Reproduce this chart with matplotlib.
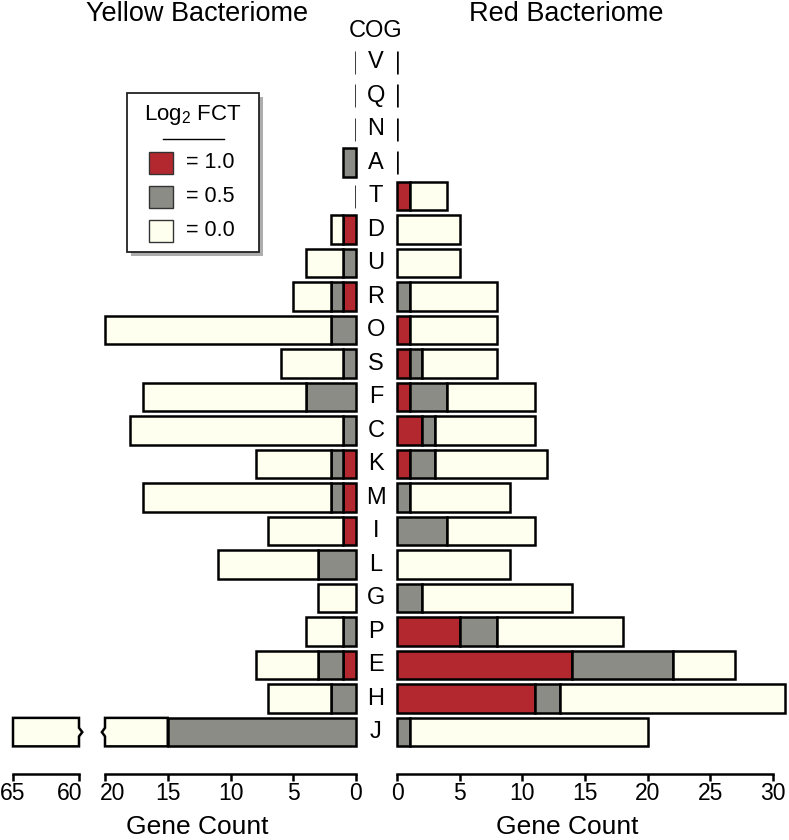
import matplotlib
matplotlib.use("Agg")
import matplotlib.pyplot as plt
import matplotlib.transforms as mtransforms
import matplotlib.patheffects as pe
from matplotlib.patches import Polygon, Rectangle
import numpy as np

plt.rcParams['font.family'] = ['Liberation Sans', 'DejaVu Sans']
plt.rcParams['mathtext.default'] = 'regular'

# COG categories, top to bottom
cogs = ['V', 'Q', 'N', 'A', 'T', 'D', 'U', 'R', 'O', 'S', 'F',
        'C', 'K', 'M', 'I', 'L', 'G', 'P', 'E', 'H', 'J']

# gene counts per Log2 FCT class (1.0, 0.5, 0.0)
yellow_fct10 = [0, 0, 0, 0, 0, 1, 0, 1, 0, 0, 0, 0, 1, 1, 1, 0, 0, 0, 1, 0, 0]
yellow_fct05 = [0, 0, 0, 1, 0, 0, 1, 1, 2, 1, 4, 1, 1, 1, 0, 3, 0, 1, 2, 2, 15]
yellow_fct00 = [0, 0, 0, 0, 0, 1, 3, 3, 18, 5, 13, 17, 6, 15, 6, 8, 3, 3, 5, 5, 50]

red_fct10 = [0, 0, 0, 0, 1, 0, 0, 0, 1, 1, 1, 2, 1, 0, 0, 0, 0, 5, 14, 11, 0]
red_fct05 = [0, 0, 0, 0, 0, 0, 0, 1, 0, 1, 3, 1, 2, 1, 4, 0, 2, 3, 8, 2, 1]
red_fct00 = [0, 0, 0, 0, 3, 5, 5, 7, 7, 6, 7, 8, 9, 8, 7, 9, 12, 10, 5, 18, 19]

fct_labels = ['= 1.0', '= 0.5', '= 0.0']
fct_colors = ['#B2282E', '#8C8C86', '#FFFFF0']

# broken left axis
break_lo, break_hi = 20, 60

W, H = 789, 840
fig = plt.figure(figsize=(W / 100, H / 100), dpi=100)

def px_axes(x0, x1, y_top, y_bot):
    return fig.add_axes([x0 / W, 1 - y_bot / H, (x1 - x0) / W, (y_bot - y_top) / H])

n = len(cogs)
ypos = np.arange(n)[::-1]
bh = 0.85
lw = 1.8
edge = dict(edgecolor='black', linewidth=lw)
ylim = (-1.25, n - 1 + 0.66)

ax_r = px_axes(397, 789, 40, 774)
ax_l = px_axes(100, 356, 40, 774)
ax_b = px_axes(13, 79, 40, 774)

ax_r.set_xlim(0, 392 / 12.53)
ax_l.set_xlim(256 / 12.55, 0)
ax_b.set_xlim(65, 60)

for ax in (ax_r, ax_l, ax_b):
    ax.set_ylim(*ylim)
    ax.set_yticks([])
    for s in ('top', 'left', 'right'):
        ax.spines[s].set_visible(False)
    ax.spines['bottom'].set_linewidth(lw)
    ax.tick_params(axis='x', direction='out', length=5, width=lw,
                   labelsize=16.5, pad=1)
    ax.patch.set_visible(False)

ax_r.spines['bottom'].set_bounds(0, 30)
ax_r.set_xticks([0, 5, 10, 15, 20, 25, 30])
ax_l.spines['bottom'].set_bounds(0, 20)
ax_l.set_xticks([0, 5, 10, 15, 20])
ax_b.spines['bottom'].set_bounds(60, 65)
ax_b.set_xticks([60, 65])

# nudge the labels either side of the break apart
def nudge(label, dx_px):
    label.set_transform(label.get_transform() +
                        mtransforms.ScaledTranslation(dx_px / 100, 0,
                                                      fig.dpi_scale_trans))

nudge(ax_b.get_xticklabels()[0], -9)
nudge(ax_l.get_xticklabels()[-1], 8)


def stacked(ax, segs, broken=False):
    left = np.zeros(n)
    for vals, col in zip(segs, fct_colors):
        vals = np.array(vals, dtype=float)
        for i in range(n):
            if vals[i] <= 0:
                continue
            end = left[i] + vals[i]
            y = ypos[i]
            if broken and end > break_lo:
                # piece below the break, notched edge at break_lo
                d = 0.25
                pts = [(left[i], y - bh / 2), (break_lo, y - bh / 2),
                       (break_lo, y - 0.15 * bh), (break_lo + d, y),
                       (break_lo, y + 0.15 * bh), (break_lo, y + bh / 2),
                       (left[i], y + bh / 2)]
                ax.add_patch(Polygon(pts, closed=True, facecolor=col, **edge))
                # piece above the break, drawn on the broken axis
                pts = [(end, y - bh / 2), (break_hi, y - bh / 2),
                       (break_hi, y - 0.15 * bh), (break_hi - d, y),
                       (break_hi, y + 0.15 * bh), (break_hi, y + bh / 2),
                       (end, y + bh / 2)]
                ax_b.add_patch(Polygon(pts, closed=True, facecolor=col,
                                       clip_on=False, **edge))
            else:
                ax.barh(y, vals[i], left=left[i], height=bh, color=col,
                        clip_on=False, **edge)
        left += vals
    zero = left == 0
    ax.vlines(np.zeros(zero.sum()), ypos[zero] - 0.34, ypos[zero] + 0.34,
              color='black', linewidth=lw)


stacked(ax_l, [yellow_fct10, yellow_fct05, yellow_fct00], broken=True)
stacked(ax_r, [red_fct10, red_fct05, red_fct00])

# COG letters
tr = mtransforms.blended_transform_factory(fig.transFigure, ax_r.transData)
for c, y in zip(cogs, ypos):
    ax_r.text(376 / W, y, c, transform=tr, ha='center', va='center',
              fontsize=17)

fig.text(376 / W, 1 - 31 / H, 'COG', ha='center', va='center', fontsize=17)
fig.text(197 / W, 1 - 14 / H, 'Yellow Bacteriome', ha='center', va='center',
         fontsize=19.5)
fig.text(566 / W, 1 - 14 / H, 'Red Bacteriome', ha='center', va='center',
         fontsize=19.5)
fig.text(197 / W, 1 - 827 / H, 'Gene Count', ha='center', va='center',
         fontsize=19)
fig.text(567 / W, 1 - 827 / H, 'Gene Count', ha='center', va='center',
         fontsize=19)

# legend box
lg = px_axes(127, 259, 93, 252)
lg.set_xlim(127, 259)
lg.set_ylim(252, 93)
lg.axis('off')
box = Rectangle((127, 93), 132, 159, facecolor='white', edgecolor='#222222',
                linewidth=1.3, clip_on=False,
                path_effects=[pe.SimplePatchShadow(offset=(3, -3),
                                                   shadow_rgbFace='#777777',
                                                   alpha=0.6),
                              pe.Normal()])
lg.add_patch(box)
lg.text(193, 115, r'Log$_2$ FCT', ha='center', va='center', fontsize=16)
lg.plot([163, 224], [139, 139], color='black', linewidth=1)
for k, (lab, col) in enumerate(zip(fct_labels, fct_colors)):
    yc = 163 + k * 34
    lg.add_patch(Rectangle((149, yc - 11), 24, 22, facecolor=col,
                           edgecolor='#333333', linewidth=1))
    lg.text(186, yc, lab, ha='left', va='center', fontsize=15.5)

fig.savefig('out.png', dpi=100)
